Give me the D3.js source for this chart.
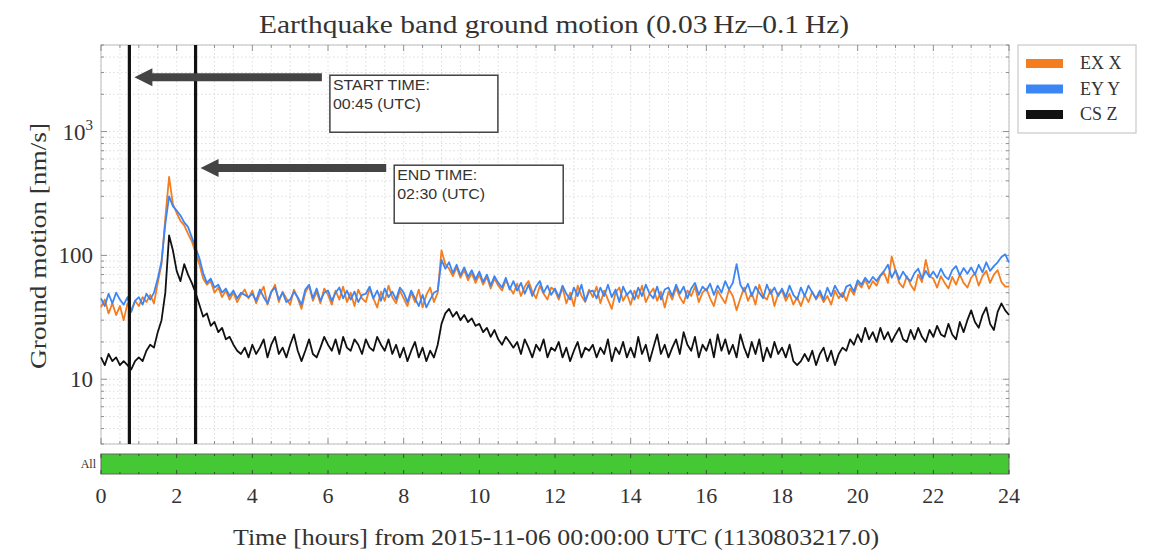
<!DOCTYPE html>
<html>
<head>
<meta charset="utf-8">
<script src="https://cdn.jsdelivr.net/npm/d3@7"></script>
<style>
  body { margin: 0; background: #fff; }
  text { fill: #333; }
</style>
</head>
<body>
<script>
// sampled every 0.1 hours from 0 to 24
const sampleStep = 0.1;

const seriesNames = ["EX X", "EY Y", "CS Z"];
const seriesColors = ["#f47d1f", "#3b86f4", "#111111"];

const exX = [
  38, 44, 34, 41, 33, 39, 30, 41,
  36, 43, 39, 46, 42, 48, 41, 60,
  85, 200, 430, 260, 220, 190, 175, 150, 130,
  105, 85, 65, 58, 62, 50, 55, 46, 52, 44, 50, 42, 48, 53, 45,
  52, 41, 49, 56, 40, 50, 58, 42, 51, 45,
  40, 53, 45, 37, 50, 57, 43, 51, 41, 54,
  48, 40, 52, 44, 56, 42, 50, 39, 53, 45,
  42, 54, 45, 38, 51, 43, 57, 46, 41, 52,
  45, 39, 50, 42, 53, 38, 48, 55, 42, 50,
  110, 85, 78, 68, 80, 66, 76, 63, 72, 60,
  70, 58, 67, 54, 65, 57, 52, 63, 55, 49,
  59, 47, 56, 62, 51, 45, 57, 49, 44, 55,
  52, 44, 55, 41, 50, 39, 57, 47, 42, 53,
  46, 56, 41, 52, 44, 37, 50, 55, 43, 49,
  40, 52, 45, 57, 42, 49, 54, 43, 51, 38,
  51, 44, 55, 46, 41, 52, 47, 56, 42, 50,
  54, 45, 39, 52, 46, 41, 53, 47, 36, 45,
  55, 43, 50, 40, 58, 47, 44, 53, 39, 49,
  52, 43, 49, 40, 46, 39, 48, 42, 51, 44,
  49, 42, 47, 40, 52, 45, 50, 43, 54, 48,
  60, 55, 64, 54, 62, 57, 68, 72, 60, 98,
  76, 60, 55, 68, 58, 52, 70, 61, 92, 68,
  65, 55, 68, 60, 54, 67, 58, 70, 60, 55,
  66, 72, 57, 68, 75, 60, 70, 76, 61, 56,
  56
];

const eyY = [
  45, 39, 49, 41, 50, 44, 40, 46,
  35, 43, 46, 40, 49, 44, 50, 65,
  90, 180, 300, 250, 230, 210, 185, 170, 140,
  115, 95, 72, 60, 65, 55, 58, 50, 54, 47, 52, 45, 50, 48, 46,
  49, 43, 53, 46, 41, 51, 55, 44, 50, 42,
  44, 51, 46, 40, 53, 58, 45, 54, 43, 50,
  52, 43, 50, 55, 45, 52, 44, 51, 42, 48,
  49, 56, 45, 52, 43, 54, 46, 51, 44, 55,
  50, 42, 52, 45, 39, 48, 38, 44, 50, 52,
  92, 78, 88, 72, 84, 69, 80, 67, 76, 64,
  74, 61, 70, 57, 68, 60, 55, 66, 53, 62,
  52, 60, 49, 58, 47, 56, 62, 50, 57, 48,
  54, 46, 57, 49, 44, 55, 47, 58, 43, 51,
  52, 45, 55, 47, 58, 46, 53, 42, 56, 48,
  52, 44, 55, 47, 58, 49, 45, 56, 44, 53,
  55, 47, 58, 49, 56, 45, 54, 60, 48, 56,
  52, 59, 48, 57, 50, 62, 53, 60, 85, 58,
  51, 59, 47, 56, 50, 45, 58, 49, 55, 47,
  54, 46, 57, 48, 44, 55, 47, 57, 50, 45,
  52, 44, 55, 47, 57, 50, 46, 56, 58, 51,
  63, 58, 66, 60, 67, 62, 69, 75, 84, 66,
  76, 64, 74, 66, 62, 72, 78, 65, 75, 67,
  74, 66, 78, 68, 64, 76, 82, 69, 79, 71,
  80, 70, 84, 73, 88, 75, 82, 88, 97, 102,
  88
];

const csZ = [
  15, 13, 16, 14, 15, 13, 14, 13,
  12, 14, 15, 14, 17, 19, 18, 24,
  30, 50, 145, 110, 75, 62, 85, 70, 60,
  50, 40, 32, 34, 27, 29, 24, 26, 21, 22, 19, 17, 16, 18, 15,
  19, 16, 18, 21, 15, 19, 22, 16, 18, 15,
  19, 23, 17, 14, 17, 21, 16, 15, 18, 22,
  19, 17, 21, 16, 22, 18, 17, 21, 19, 16,
  21, 18, 17, 22, 19, 17, 21, 16, 19, 15,
  18, 14, 17, 20, 15, 18, 14, 17, 15, 19,
  28, 34, 37, 32, 35, 30, 33, 29, 31, 27,
  28, 24, 26, 22, 25, 21, 19, 22, 20, 18,
  20, 16, 21, 18, 15, 19, 17, 21, 15, 18,
  17, 20, 15, 18, 14, 17, 20, 15, 18, 17,
  19, 15, 18, 16, 21, 14, 18, 16, 20, 15,
  18, 15, 22, 16, 19, 14, 18, 23, 16, 19,
  15, 18, 21, 16, 24, 19, 17, 22, 15, 19,
  17, 21, 15, 23, 17, 21, 16, 19, 15, 23,
  18, 15, 20, 16, 21, 14, 18, 15, 20, 16,
  18, 15, 19, 14, 13, 14, 16, 14, 17, 13,
  16, 18, 14, 17, 13, 16, 18, 17, 21, 19,
  23, 20, 26, 21, 24, 20, 26, 21, 24, 20,
  23, 26, 21, 20, 25, 21, 26, 22, 20, 25,
  22, 27, 23, 22, 28, 23, 21, 29, 24, 30,
  36, 29, 26, 33, 38, 28, 25, 35, 41, 36,
  33
];

const xTicks = [0, 2, 4, 6, 8, 10, 12, 14, 16, 18, 20, 22, 24];
const yTicks = [10, 100, 1000];

// start / end markers (hours) and their notes
const markerHours = [0.75, 2.5];
const markerTitles = ["START TIME:", "END TIME:"];
const markerTimes = ["00:45 (UTC)", "02:30 (UTC)"];
const markerArrowValues = [2750, 507];
const markerBoxValues = [2850, 535];
const markerBoxHours = [6.05, 7.75];
const markerBoxWidths = [168, 169];
const markerBoxHeights = [57, 58];
const titleLengths = [97, 80];
const timeLengths = [88, 88];

const w = 1151, h = 552;
const plotLeft = 101, plotRight = 1009, plotTop = 45, plotBottom = 444;

const svg = d3.select("body").append("svg")
  .attr("width", w)
  .attr("height", h);

const x = d3.scaleLinear().domain([0, 24]).range([plotLeft, plotRight]);
const y = d3.scaleLog().domain([3, 5000]).range([plotBottom, plotTop]);

// grid
const minorX = d3.range(0, 24.01, 0.5);
const minorY = [];
[1, 10, 100, 1000].forEach((dec) => {
  for (let k = 1; k < 10; k++) {
    const v = dec * k;
    if (v >= 3 && v <= 5000) minorY.push(v);
  }
});

svg.append("g").selectAll("line")
  .data(minorX)
  .enter()
  .append("line")
  .attr("x1", (d) => x(d)).attr("x2", (d) => x(d))
  .attr("y1", plotTop).attr("y2", plotBottom)
  .attr("stroke", "#d4d4d4")
  .attr("stroke-width", 0.8)
  .attr("stroke-dasharray", "1.5,2.5");

svg.append("g").selectAll("line")
  .data(minorY)
  .enter()
  .append("line")
  .attr("x1", plotLeft).attr("x2", plotRight)
  .attr("y1", (d) => y(d)).attr("y2", (d) => y(d))
  .attr("stroke", "#d4d4d4")
  .attr("stroke-width", 0.8)
  .attr("stroke-dasharray", "1.5,2.5");

// frame
svg.append("rect")
  .attr("x", plotLeft).attr("y", plotTop)
  .attr("width", plotRight - plotLeft).attr("height", plotBottom - plotTop)
  .attr("fill", "none")
  .attr("stroke", "#bdbdbd")
  .attr("stroke-width", 1);

// inward ticks
const tickG = svg.append("g").attr("stroke", "#777").attr("stroke-width", 0.8);
minorX.forEach((d) => {
  const len = (d % 2 === 0) ? 6 : 3;
  tickG.append("line").attr("x1", x(d)).attr("x2", x(d)).attr("y1", plotBottom).attr("y2", plotBottom - len);
  tickG.append("line").attr("x1", x(d)).attr("x2", x(d)).attr("y1", plotTop).attr("y2", plotTop + len);
});
minorY.forEach((d) => {
  const len = yTicks.includes(d) ? 6 : 3;
  tickG.append("line").attr("x1", plotLeft).attr("x2", plotLeft + len).attr("y1", y(d)).attr("y2", y(d));
  tickG.append("line").attr("x1", plotRight).attr("x2", plotRight - len).attr("y1", y(d)).attr("y2", y(d));
});

// series
const series = [exX, eyY, csZ];
const line = d3.line()
  .x((d, i) => x(i * sampleStep))
  .y((d) => y(d));

svg.append("g").selectAll("path")
  .data(series)
  .enter()
  .append("path")
  .attr("d", (d) => line(d))
  .attr("fill", "none")
  .attr("stroke", (d, i) => seriesColors[i])
  .attr("stroke-width", 1.8)
  .attr("stroke-linejoin", "round");

// vertical marker lines
svg.append("g").selectAll("line")
  .data(markerHours)
  .enter()
  .append("line")
  .attr("x1", (d) => x(d)).attr("x2", (d) => x(d))
  .attr("y1", plotTop).attr("y2", plotBottom)
  .attr("stroke", "#111")
  .attr("stroke-width", 3.2);

// arrows + note boxes
const sans = "Liberation Sans, Arial, sans-serif";
markerHours.forEach((hr, i) => {
  const ay = y(markerArrowValues[i]);
  const tip = x(hr) + 5;
  const bx = x(markerBoxHours[i]);
  const by = y(markerBoxValues[i]);
  const tail = bx - 8;
  svg.append("line")
    .attr("x1", tip + 14).attr("x2", tail)
    .attr("y1", ay).attr("y2", ay)
    .attr("stroke", "#444")
    .attr("stroke-width", 8);
  svg.append("path")
    .attr("d", `M${tip},${ay} L${tip + 18},${ay - 9} L${tip + 18},${ay + 9} Z`)
    .attr("fill", "#444");
  svg.append("rect")
    .attr("x", bx).attr("y", by)
    .attr("width", markerBoxWidths[i]).attr("height", markerBoxHeights[i])
    .attr("fill", "#fff")
    .attr("stroke", "#444")
    .attr("stroke-width", 1.5);
  svg.append("text")
    .attr("x", bx + 3).attr("y", by + 15)
    .attr("font-family", sans)
    .attr("font-size", "15px")
    .attr("textLength", titleLengths[i])
    .attr("lengthAdjust", "spacingAndGlyphs")
    .text(markerTitles[i]);
  svg.append("text")
    .attr("x", bx + 3).attr("y", by + 34)
    .attr("font-family", sans)
    .attr("font-size", "15px")
    .attr("textLength", timeLengths[i])
    .attr("lengthAdjust", "spacingAndGlyphs")
    .text(markerTimes[i]);
});

// y tick labels
const serif = "Liberation Serif, DejaVu Serif, serif";
yTicks.forEach((d) => {
  const t = svg.append("text")
    .attr("x", plotLeft - 8)
    .attr("y", y(d) + 8)
    .attr("text-anchor", "end")
    .attr("font-family", serif)
    .attr("font-size", "23px");
  if (d === 1000) {
    t.append("tspan").text("10");
    t.append("tspan").attr("dy", -10).attr("font-size", "15px").text("3");
  } else {
    t.text(d);
  }
});

// state bar
svg.append("rect")
  .attr("x", plotLeft).attr("y", 454)
  .attr("width", plotRight - plotLeft).attr("height", 20)
  .attr("fill", "#44c935")
  .attr("stroke", "#666")
  .attr("stroke-width", 1);
const barTicks = svg.append("g").attr("stroke", "#333").attr("stroke-width", 0.8);
minorX.forEach((d) => {
  const len = (d % 2 === 0) ? 4 : 2;
  barTicks.append("line").attr("x1", x(d)).attr("x2", x(d)).attr("y1", 454).attr("y2", 454 + len);
  barTicks.append("line").attr("x1", x(d)).attr("x2", x(d)).attr("y1", 474).attr("y2", 474 - len);
});
svg.append("text")
  .attr("x", plotLeft - 5).attr("y", 468)
  .attr("text-anchor", "end")
  .attr("font-family", serif)
  .attr("font-size", "12px")
  .text("All");

// x tick labels
svg.append("g").selectAll("text")
  .data(xTicks)
  .enter()
  .append("text")
  .attr("x", (d) => x(d))
  .attr("y", 503)
  .attr("text-anchor", "middle")
  .attr("font-family", serif)
  .attr("font-size", "22px")
  .text((d) => d);

// title + axis labels
svg.append("text")
  .attr("x", 554).attr("y", 33)
  .attr("text-anchor", "middle")
  .attr("font-family", serif)
  .attr("font-size", "26px")
  .attr("textLength", 590)
  .attr("lengthAdjust", "spacingAndGlyphs")
  .text("Earthquake band ground motion (0.03\u2009Hz\u20130.1\u2009Hz)");

svg.append("text")
  .attr("x", 556).attr("y", 545)
  .attr("text-anchor", "middle")
  .attr("font-family", serif)
  .attr("font-size", "24px")
  .attr("textLength", 646)
  .attr("lengthAdjust", "spacingAndGlyphs")
  .text("Time [hours] from 2015-11-06 00:00:00 UTC (1130803217.0)");

svg.append("text")
  .attr("transform", "translate(46,246) rotate(-90)")
  .attr("text-anchor", "middle")
  .attr("font-family", serif)
  .attr("font-size", "24px")
  .attr("textLength", 246)
  .attr("lengthAdjust", "spacingAndGlyphs")
  .text("Ground motion [nm/s]");

// legend
svg.append("rect")
  .attr("x", 1018).attr("y", 45)
  .attr("width", 118).attr("height", 88)
  .attr("fill", "#fff")
  .attr("stroke", "#c8c8c8")
  .attr("stroke-width", 1.2);
seriesNames.forEach((name, i) => {
  const ly = 63 + i * 25.5;
  svg.append("rect")
    .attr("x", 1026).attr("y", ly - 4)
    .attr("width", 37).attr("height", 9)
    .attr("fill", seriesColors[i]);
  svg.append("text")
    .attr("x", 1080).attr("y", ly + 6)
    .attr("font-family", serif)
    .attr("font-size", "18px")
    .text(name);
});
</script>
</body>
</html>
